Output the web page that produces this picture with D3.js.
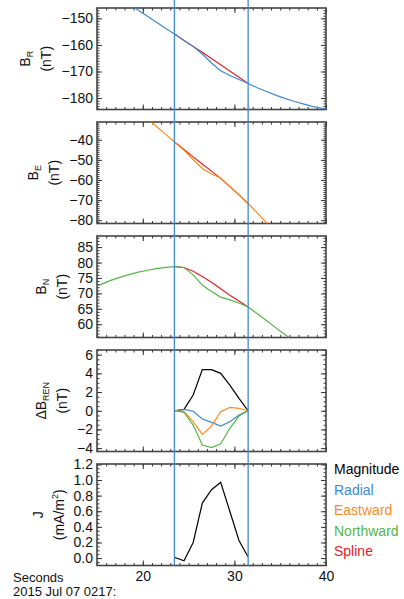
<!DOCTYPE html>
<html>
<head>
<meta charset="utf-8">
<script src="https://cdn.jsdelivr.net/npm/d3@7"></script>
<style>
  body { margin: 0; background: white; }
  svg { display: block; font-family: "Liberation Sans", Arial, sans-serif; }
</style>
</head>
<body>
<svg id="chart" width="404" height="599"></svg>
<script>
// 1 Hz samples (seconds after 02:17)
const times = [14.5, 15.5, 16.5, 17.5, 18.5, 19.5, 20.5, 21.5, 22.5, 23.5, 24.5, 25.5, 26.5,
  27.5, 28.5, 29.5, 30.5, 31.5, 32.5, 33.5, 34.5, 35.5, 36.5, 37.5, 38.5, 39.5, 40.5];
const bRadial = [-135.5, -137.8, -140.1, -142.4, -144.6, -146.9, -149.2, -151.5, -153.8, -156.0,
  -158.3, -160.6, -163.4, -166.8, -169.7, -171.5, -173.0, -174.5, -176.1, -177.5, -178.9,
  -180.1, -181.2, -182.2, -183.1, -183.8, -184.4];
const bEast = [-5.8, -9.7, -13.6, -17.6, -21.5, -25.5, -29.4, -33.4, -37.3, -41.2, -45.2, -49.8,
  -54.3, -57.0, -59.0, -63.2, -67.3, -71.7, -76.4, -81.2, -86.0, -90.8, -95.6, -100.4, -105.2,
  -110.0, -114.8];
const bNorth = [71.8, 73.0, 74.2, 75.2, 76.1, 76.9, 77.5, 78.0, 78.4, 78.7, 78.4, 76.0, 72.6, 70.6,
  68.8, 67.9, 66.9, 65.6, 63.4, 61.2, 58.9, 56.7, 54.5, 52.3, 50.1, 47.9, 45.7];

// event interval
const evTimes = [23.5, 24.5, 25.5, 26.5, 27.5, 28.5, 29.5, 30.5, 31.5];
const splineR = [-156.0, -158.3, -160.6, -162.8, -165.1, -167.5, -169.8, -172.2, -174.5];
const splineE = [-41.2, -44.8, -48.5, -52.0, -55.6, -59.2, -63.3, -67.4, -71.7];
const splineN = [78.7, 78.4, 77.2, 75.5, 73.6, 71.5, 69.4, 67.5, 65.6];
const dMag = [0, 0.15, 1.68, 4.4, 4.4, 4.0, 2.75, 1.32, 0];
const dRad = [0, 0.15, -0.05, -0.89, -1.25, -1.64, -1.17, -0.46, 0];
const dEast = [0, -0.1, -1.17, -2.53, -1.64, -0.1, 0.36, 0.25, 0];
const dNorth = [0, -0.18, -1.53, -3.67, -3.95, -3.56, -1.88, -0.57, 0];
const jVals = [0.008, -0.035, 0.20, 0.705, 0.876, 0.97, 0.60, 0.226, 0.013];

const markers = [23.45, 31.5];
const xTicks = [20, 30, 40];
const legendNames = ['Magnitude', 'Radial', 'Eastward', 'Northward', 'Spline'];

const colors = {
  mag: '#000000', rad: '#3f8ad2', east: '#ff8a1c', north: '#56b548', spline: '#e8202a'
};
const legendColors = [colors.mag, colors.rad, colors.east, colors.north, colors.spline];

const svg = d3.select('#chart');
const left = 97, right = 326;
const panelTop = i => 8 + i * 114;
const panelH = 101.5;

const x = d3.scaleLinear().domain([15, 40]).range([left, right]);

const panels = [
  { domain: [-184.3, -146.1], major: [-180, -170, -160, -150], minor: 1,
    title: [['B', 'R']], series: [
      { t: evTimes, v: splineR, c: colors.spline },
      { t: times, v: bRadial, c: colors.rad }] },
  { domain: [-81.65, -31.15], major: [-80, -70, -60, -50, -40], minor: 1,
    title: [['B', 'E']], series: [
      { t: evTimes, v: splineE, c: colors.spline },
      { t: times, v: bEast, c: colors.east }] },
  { domain: [55.7, 88.6], major: [60, 65, 70, 75, 80, 85], minor: 1,
    title: [['B', 'N']], series: [
      { t: evTimes, v: splineN, c: colors.spline },
      { t: times, v: bNorth, c: colors.north }] },
  { domain: [-4.36, 6.5], major: [-4, -2, 0, 2, 4, 6], minor: 0.5,
    title: [['ΔB', 'REN']], series: [
      { t: evTimes, v: dMag, c: colors.mag },
      { t: evTimes, v: dRad, c: colors.rad },
      { t: evTimes, v: dEast, c: colors.east },
      { t: evTimes, v: dNorth, c: colors.north }] },
  { domain: [-0.095, 1.205], major: [0, 0.2, 0.4, 0.6, 0.8, 1.0, 1.2], minor: 0.05,
    title: [['J', '']], unit: 'mA', fmt: d3.format('.1f'), series: [
      { t: evTimes, v: jVals, c: colors.mag }] }
];

function range(a, b, step) {
  const out = [];
  const n = Math.round((b - a) / step);
  for (let i = 0; i <= n; i++) out.push(+(a + i * step).toFixed(4));
  return out;
}

panels.forEach((p, i) => {
  const top = panelTop(i), bottom = top + panelH;
  const y = d3.scaleLinear().domain(p.domain).range([bottom, top]);
  const g = svg.append('g');

  const clipId = `clip-${i}`;
  g.append('clipPath').attr('id', clipId)
    .append('rect').attr('x', left).attr('y', top).attr('width', right - left).attr('height', panelH);

  const minorY = range(Math.ceil(p.domain[0] / p.minor) * p.minor, Math.floor(p.domain[1] / p.minor) * p.minor, p.minor);
  const minorX = range(15, 40, 1);

  // ticks on all four sides, pointing inward
  const addAxis = (axis, tr) => {
    const a = g.append('g').attr('transform', tr).call(axis);
    a.select('.domain').remove();
    a.selectAll('line').attr('stroke', '#333').attr('stroke-width', 1);
    return a;
  };
  addAxis(d3.axisLeft(y).tickValues(minorY).tickSize(-2.5).tickFormat(''), `translate(${left},0)`);
  addAxis(d3.axisRight(y).tickValues(minorY).tickSize(-2.5).tickFormat(''), `translate(${right},0)`);
  addAxis(d3.axisRight(y).tickValues(p.major).tickSize(-5).tickFormat(''), `translate(${right},0)`);
  const yAx = addAxis(d3.axisLeft(y).tickValues(p.major).tickSize(-5).tickPadding(4)
    .tickFormat(p.fmt || d3.format('d')), `translate(${left},0)`);
  yAx.selectAll('text').attr('font-size', 14).attr('fill', '#111')
    .attr('font-family', '"Liberation Sans", Arial, sans-serif');

  addAxis(d3.axisTop(x).tickValues(minorX).tickSize(-2.5).tickFormat(''), `translate(0,${top})`);
  addAxis(d3.axisTop(x).tickValues(xTicks).tickSize(-5).tickFormat(''), `translate(0,${top})`);
  addAxis(d3.axisBottom(x).tickValues(minorX).tickSize(-2.5).tickFormat(''), `translate(0,${bottom})`);
  const xAx = addAxis(d3.axisBottom(x).tickValues(xTicks).tickSize(-5).tickPadding(6)
    .tickFormat(i === panels.length - 1 ? d3.format('d') : ''), `translate(0,${bottom})`);
  xAx.selectAll('text').attr('font-size', 14).attr('fill', '#111')
    .attr('font-family', '"Liberation Sans", Arial, sans-serif');

  // frame
  g.append('rect')
    .attr('x', left).attr('y', top).attr('width', right - left).attr('height', panelH)
    .attr('fill', 'none').attr('stroke', '#444').attr('stroke-width', 1.6);

  // data lines
  const lines = g.append('g').attr('clip-path', `url(#${clipId})`);
  p.series.forEach(s => {
    const line = d3.line().x(d => x(d[0])).y(d => y(d[1]));
    lines.append('path')
      .attr('d', line(d3.zip(s.t, s.v)))
      .attr('fill', 'none').attr('stroke', s.c).attr('stroke-width', 1.2);
  });

  // axis title, placed from the width of the tick labels
  const labelLeft = yAx.node().getBBox().x + left;
  const cy = (top + bottom) / 2;
  const t1 = g.append('text')
    .attr('transform', `translate(${labelLeft - 31},${cy}) rotate(-90)`)
    .attr('text-anchor', 'middle').attr('font-size', 14).attr('fill', '#111');
  t1.append('tspan').text(p.title[0][0]);
  if (p.title[0][1]) {
    t1.append('tspan').attr('font-size', 9).attr('dy', 3).text(p.title[0][1]);
  }
  const t2 = g.append('text')
    .attr('transform', `translate(${labelLeft - 10},${cy}) rotate(-90)`)
    .attr('text-anchor', 'middle').attr('font-size', 14).attr('fill', '#111');
  if (p.unit) {
    t2.append('tspan').text('(mA/m');
    t2.append('tspan').attr('font-size', 9).attr('dy', -6).text('2');
    t2.append('tspan').attr('dy', 6).text(')');
  } else {
    t2.text('(nT)');
  }
});

// event boundaries across all panels
svg.append('g').selectAll('line')
  .data(markers)
  .enter().append('line')
  .attr('x1', d => x(d)).attr('x2', d => x(d))
  .attr('y1', 0).attr('y2', panelTop(4) + panelH)
  .attr('stroke', colors.rad).attr('stroke-width', 1.3);

// legend
svg.append('g').selectAll('text')
  .data(legendNames)
  .enter().append('text')
  .attr('x', 334)
  .attr('y', (d, i) => 474 + i * 20.5)
  .attr('font-size', 14)
  .attr('fill', (d, i) => legendColors[i])
  .text(d => d);

// time annotation
svg.append('text').attr('x', 13).attr('y', 582).attr('font-size', 13).attr('fill', '#111').text('Seconds');
svg.append('text').attr('x', 13).attr('y', 596).attr('font-size', 13).attr('fill', '#111').text('2015 Jul 07 0217:');
</script>
</body>
</html>
